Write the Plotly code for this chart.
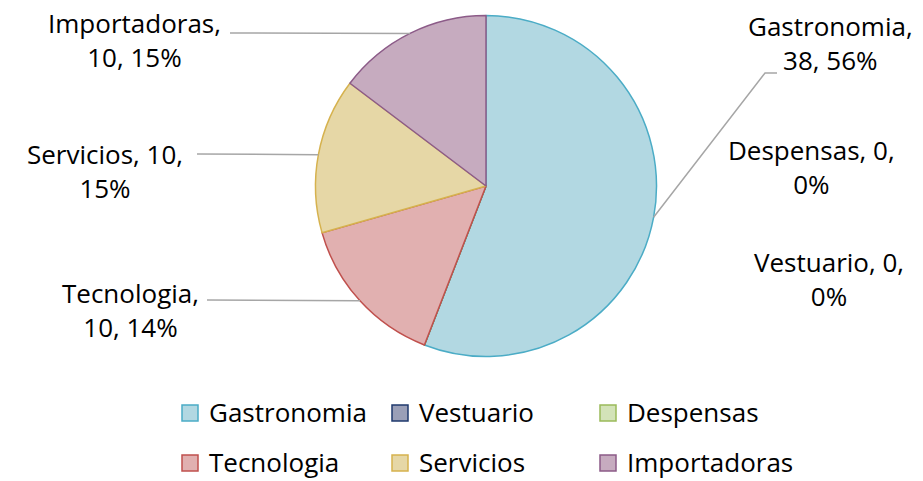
import math
import plotly.graph_objects as go

# ---- data ----
categories = ["Gastronomia", "Vestuario", "Despensas", "Tecnologia", "Servicios", "Importadoras"]
values = [38, 0, 0, 10, 10, 10]
pct_labels = ["56%", "0%", "0%", "14%", "15%", "15%"]

# ---- styles ----
fill_colors = ["#b2d8e2", "#9a9fb7", "#d3e3b8", "#e1b0b0", "#e6d7a6", "#c6abbf"]
line_colors = ["#4bacc6", "#1f3a6e", "#9bbb59", "#c0504d", "#d6b24e", "#8c5b88"]
FONT = "Open Sans"
FS = 26

W, H = 923, 481
cx, cy, R = 486, 186, 170.5

fig = go.Figure()
fig.add_trace(go.Pie(
    labels=categories,
    values=values,
    sort=False,
    direction="clockwise",
    rotation=0,
    textinfo="none",
    hoverinfo="label+value+percent",
    marker=dict(colors=fill_colors, line=dict(color=line_colors, width=1.5)),
    domain=dict(x=[(cx - R) / W, (cx + R) / W], y=[1 - (cy + R) / H, 1 - (cy - R) / H]),
    showlegend=False,
))

# label layout: (x center px, y middle px of block, leader path start points or None)
label_layout = {
    "Gastronomia": (830, 43, [(777, 73), (765, 73)]),
    "Vestuario": (829, 279, None),
    "Despensas": (811, 167, None),
    "Tecnologia": (130, 310, [(207, 300)]),
    "Servicios": (105, 171, [(197, 154)]),
    "Importadoras": (134, 40, [(230, 33)]),
}

def px(x, y):
    return x / W, 1 - y / H

total = sum(values)
cum = 0.0
annotations = []
shapes = []
for cat, v, pct in zip(categories, values, pct_labels):
    mid = (cum + v / 2) / total * 2 * math.pi
    cum += v
    ex = cx + R * math.sin(mid)
    ey = cy - R * math.cos(mid)
    lx, ly, start = label_layout[cat]
    if len(cat) >= 10:
        txt = f"{cat},<br>{v}, {pct}"
    else:
        txt = f"{cat}, {v},<br>{pct}"
    ax_, ay_ = px(lx, ly)
    annotations.append(dict(
        x=ax_, y=ay_, xref="paper", yref="paper",
        text=txt, showarrow=False, xanchor="center", yanchor="middle",
        align="center", font=dict(family=FONT, size=FS, color="#000000"),
    ))
    if start is not None:
        pts = start + [(ex, ey)]
        path = "M " + " L ".join(f"{p[0] / W:.5f},{1 - p[1] / H:.5f}" for p in pts)
        shapes.append(dict(
            type="path", xref="paper", yref="paper", path=path,
            line=dict(color="#a6a6a6", width=1.5),
        ))

# ---- custom legend (3 columns x 2 rows, as in the original) ----
leg_col_x = [182, 392, 600]
leg_row_y = [413, 463]
SW = 16
for i, (cat, fc, lc) in enumerate(zip(categories, fill_colors, line_colors)):
    col = i % 3
    row = i // 3
    x0 = leg_col_x[col]
    yc = leg_row_y[row]
    shapes.append(dict(
        type="rect", xref="paper", yref="paper",
        x0=x0 / W, x1=(x0 + SW) / W,
        y0=1 - (yc + SW / 2) / H, y1=1 - (yc - SW / 2) / H,
        fillcolor=fc, line=dict(color=lc, width=1.5),
    ))
    tx, ty = px(x0 + SW + 9, yc - 1.5)
    annotations.append(dict(
        x=tx, y=ty, xref="paper", yref="paper", text=cat,
        showarrow=False, xanchor="left", yanchor="middle",
        font=dict(family=FONT, size=FS, color="#000000"),
    ))

fig.update_layout(
    width=W, height=H,
    margin=dict(l=0, r=0, t=0, b=0, pad=0, autoexpand=False),
    paper_bgcolor="white",
    plot_bgcolor="white",
    annotations=annotations,
    shapes=shapes,
    font=dict(family=FONT, size=FS, color="#000000"),
    showlegend=False,
)

fig.write_html(
    "out.html",
    config={"displayModeBar": False},
    post_script="document.body.style.margin='0';document.body.style.overflow='hidden';",
)
